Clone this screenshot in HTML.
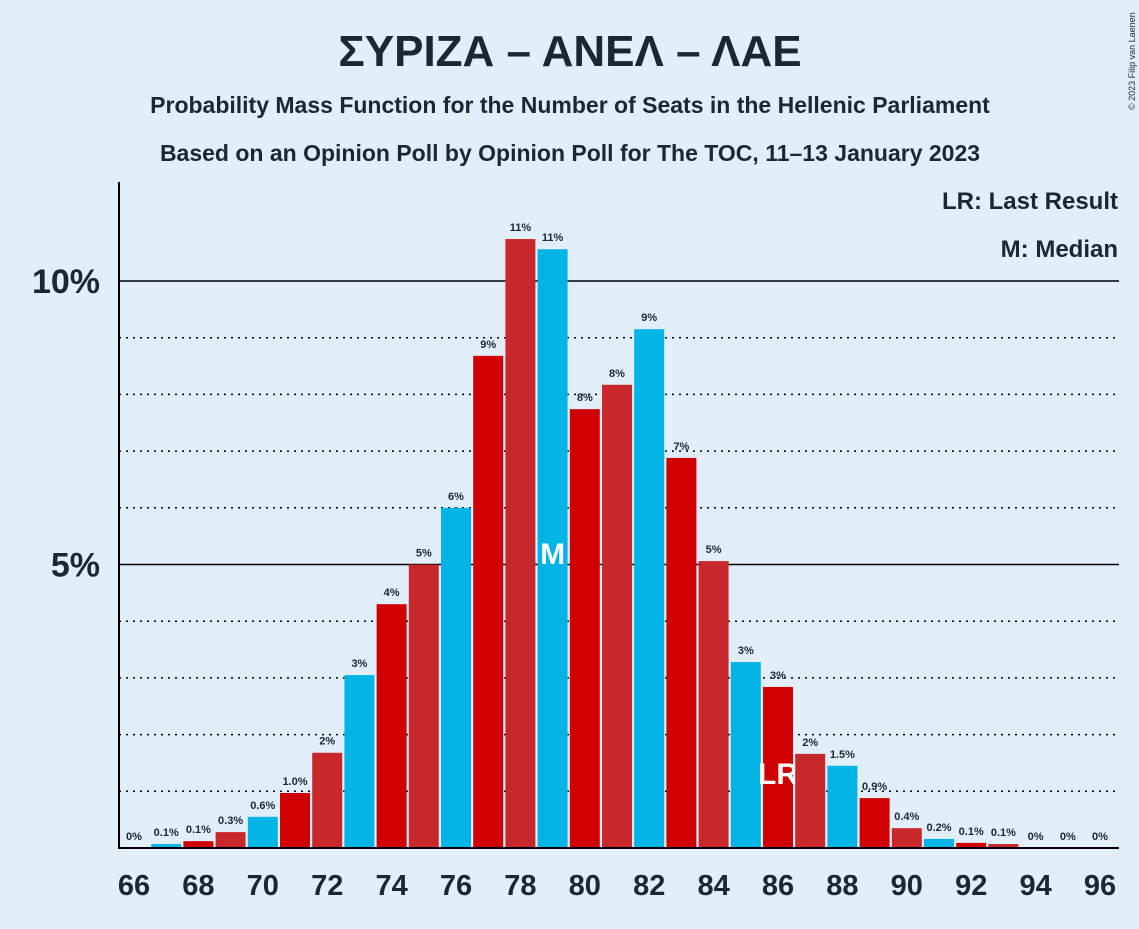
<!DOCTYPE html>
<html><head><meta charset="utf-8"><style>
body{margin:0;background:#e2effb;font-family:"Liberation Sans",sans-serif;}
svg text{font-family:"Liberation Sans",sans-serif;font-weight:bold;fill:#1b2733;}
</style></head><body>
<svg width="1139" height="924">
<rect width="1139" height="924" fill="#e2effb"/>
<text x="570" y="66" font-size="44" text-anchor="middle">ΣΥΡΙΖΑ – ΑΝΕΛ – ΛΑΕ</text>
<text x="570" y="113" font-size="23" text-anchor="middle">Probability Mass Function for the Number of Seats in the Hellenic Parliament</text>
<text x="570" y="161" font-size="23" text-anchor="middle">Based on an Opinion Poll by Opinion Poll for The TOC, 11–13 January 2023</text>
<text x="1135" y="110" font-size="9" transform="rotate(-90 1135 110)" style="font-weight:normal">© 2023 Filip van Laenen</text>
<g id="grid"></g><g id="bars"></g>
<line x1="119" y1="182" x2="119" y2="849" stroke="#000" stroke-width="2"/>
<line x1="118" y1="848" x2="1119" y2="848" stroke="#000" stroke-width="2"/>
<text x="1118" y="209" font-size="24" text-anchor="end">LR: Last Result</text>
<text x="1118" y="257" font-size="24" text-anchor="end">M: Median</text>
</svg>
<script>
const seats=[66,67,68,69,70,71,72,73,74,75,76,77,78,79,80,81,82,83,84,85,86,87,88,89,90,91,92,93,94,95,96];
const probs=[0,0.07,0.12,0.28,0.55,0.97,1.68,3.05,4.3,5.0,6.0,8.68,10.74,10.56,7.74,8.17,9.15,6.88,5.06,3.28,2.84,1.66,1.45,0.88,0.35,0.16,0.09,0.07,0,0,0];
const labels=["0%","0.1%","0.1%","0.3%","0.6%","1.0%","2%","3%","4%","5%","6%","9%","11%","11%","8%","8%","9%","7%","5%","3%","3%","2%","1.5%","0.9%","0.4%","0.2%","0.1%","0.1%","0%","0%","0%"];
const yTicks=[5,10];
const medianSeat=79, lastResultSeat=86;
const NS="http://www.w3.org/2000/svg";
const x=s=>134+(s-66)*32.2;
const y=v=>848-v*56.7;
function mk(t,a,p){const e=document.createElementNS(NS,t);for(const k in a)e.setAttribute(k,a[k]);p.appendChild(e);return e;}
const g=document.getElementById('grid'),b=document.getElementById('bars');
for(let i=1;i<=10;i++){
 const l=mk('line',{x1:119,x2:1119,y1:y(i),y2:y(i),stroke:'#000','stroke-width':1.5,'stroke-dasharray':i%5?'2,5':'none'},g);
 
 
}
yTicks.forEach(v=>{const t=mk('text',{x:100,y:y(v)+12,'font-size':34,'text-anchor':'end'},g);t.textContent=v+'%';
 
 });
seats.forEach((s,i)=>{
 const c=(s-67)%3===0?'#00b5e6':((s-68)%3===0?'#d00000':'#c8282c');
 const h=probs[i]*56.7;
 const r=mk('rect',{x:x(s)-15,y:848-h,width:30,height:h,fill:c},b);
 
 
 const t=mk('text',{x:x(s),y:y(probs[i])-8,'font-size':11,'text-anchor':'middle'},b);t.textContent=labels[i];
 
 
 if(s%2===0){const k=mk('text',{x:x(s),y:895,'font-size':29,'text-anchor':'middle'},b);k.textContent=s;
  
  }
 if(s===medianSeat){const m=mk('text',{x:x(s),y:564,'font-size':30,'text-anchor':'middle',style:'fill:#fff'},b);m.textContent='M';
  
  }
 if(s===lastResultSeat){const m=mk('text',{x:x(s),y:784,'font-size':30,'text-anchor':'middle',style:'fill:#fff'},b);m.textContent='LR';
  
  }
});
</script>
</body></html>
